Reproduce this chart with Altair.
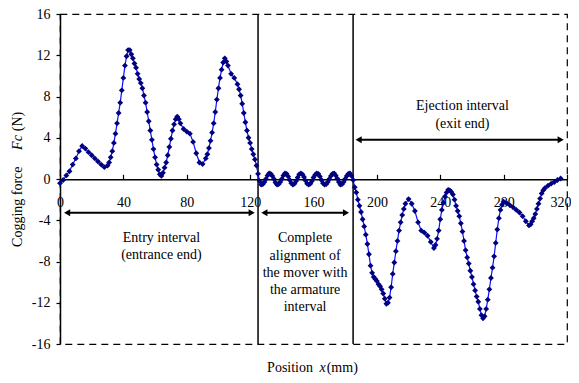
import altair as alt
import pandas as pd

# ---- curve data: position x (mm) and cogging force Fc (N) ----
pos = [0, 2, 4, 6, 8, 10, 12, 14, 16, 18, 20, 22, 24, 26, 28,
       30, 31, 32, 33, 34, 35, 36, 37, 38, 39, 40, 41, 42, 43, 44, 45, 46, 47, 48, 49,
       50, 51, 52, 53, 54, 55, 56, 57, 58, 59, 60, 61, 62, 63, 64, 65, 66, 67, 68, 69,
       70, 71, 72, 73, 74, 75, 76,
       78, 80, 82, 84, 86, 88, 90,
       92, 93, 94, 95, 96, 97, 98, 99, 100, 101, 102, 103, 104, 105, 106,
       108, 110,
       112, 113, 114, 115, 116, 117, 118, 119, 120, 121, 122, 123, 124, 125,
       126, 127, 128, 129, 130, 131, 132, 133, 134, 135, 136, 137, 138, 139, 140,
       141, 142, 143, 144, 145, 146, 147, 148, 149, 150, 151, 152, 153, 154, 155, 156,
       157, 158, 159, 160, 161, 162, 163, 164, 165, 166, 167, 168, 169, 170, 171, 172,
       173, 174, 175, 176, 177, 178, 179, 180, 181, 182, 183, 184, 185,
       186, 187, 188, 189, 190, 191, 192, 193, 194, 195, 196, 197, 198, 199, 200, 201,
       202, 203, 204, 205, 206, 207, 208, 209, 210, 211, 212, 213, 214, 215, 216, 217, 218,
       220, 222, 224, 226, 228, 230, 232, 234,
       236, 237, 238, 239, 240, 241, 242, 243, 244, 245, 246, 247, 248, 249, 250, 251,
       252, 253, 254, 255, 256, 257, 258, 259, 260, 261, 262, 263, 264, 265, 266, 267,
       268, 269, 270, 271, 272, 273, 274, 275, 276, 277, 278, 279, 280,
       282, 284, 286, 288, 290, 292, 294,
       296, 297, 298, 299, 300, 301, 302, 303, 304, 305, 306,
       308, 310, 312, 314, 316]
force = [-0.4, -0.1, 0.35, 0.75, 1.4, 2.0, 2.7, 3.2, 2.95, 2.6, 2.3, 2.0, 1.7, 1.4, 1.15,
         1.3, 1.6, 2.1, 2.7, 3.5, 4.4, 5.4, 6.4, 7.4, 8.6, 9.8, 11.0, 11.9, 12.5, 12.5, 12.1, 11.7, 11.2, 10.8, 10.2,
         9.7, 9.3, 8.8, 8.1, 7.4, 6.5, 5.6, 4.7, 3.8, 2.9, 2.1, 1.4, 0.9, 0.45, 0.3, 0.6, 1.1, 1.6, 2.3, 3.1,
         3.9, 4.7, 5.3, 5.8, 6.05, 5.8, 5.4,
         4.85, 4.6, 4.4, 3.6, 2.5, 1.6, 1.45,
         2.0, 2.4, 3.0, 3.7, 4.5, 5.4, 6.5, 7.7, 8.8, 9.8, 10.6, 11.3, 11.7, 11.4, 11.0,
         10.2, 9.8,
         9.2, 8.7, 8.1, 7.3, 6.4, 5.5, 4.7, 4.0, 3.5, 2.9, 2.4, 1.9, 1.3, 0.5,
         -0.2, -0.55, -0.5, -0.3, 0.0, 0.35, 0.55, 0.5, 0.3, 0.0, -0.35, -0.55, -0.5, -0.3, 0.0,
         0.35, 0.55, 0.5, 0.25, -0.1, -0.4, -0.55, -0.45, -0.2, 0.15, 0.45, 0.55, 0.45, 0.2, -0.15, -0.45,
         -0.55, -0.45, -0.2, 0.15, 0.4, 0.55, 0.5, 0.25, -0.1, -0.4, -0.55, -0.5, -0.3, 0.0, 0.3, 0.5,
         0.55, 0.35, 0.05, -0.3, -0.55, -0.5, -0.3, 0.0, 0.3, 0.5, 0.55, 0.3, -0.1,
         -0.8, -1.3, -2.0, -2.6, -3.2, -3.9, -4.6, -5.4, -6.3, -7.3, -8.4, -9.1, -9.5, -9.7, -9.9, -10.2,
         -10.4, -10.7, -11.1, -11.6, -12.1, -12.0, -11.5, -10.5, -9.2, -8.1, -7.0, -6.0, -5.0, -4.2, -3.5, -2.9, -2.4,
         -1.95, -2.4, -3.1, -4.2, -5.0, -5.2, -5.5, -6.1,
         -6.7, -6.4, -5.8, -5.0, -3.9, -3.0, -2.3, -1.7, -1.3, -1.05, -1.1, -1.25, -1.5, -2.0, -2.6, -3.1,
         -3.6, -4.3, -5.1, -6.0, -6.9, -7.6, -8.2, -8.9, -9.5, -10.2, -10.8, -11.4, -11.9, -12.6, -13.2, -13.5,
         -13.3, -12.6, -11.7, -10.7, -9.6, -8.6, -7.5, -6.2, -4.9, -3.8, -3.0, -2.5, -2.2,
         -2.35, -2.55, -2.75, -3.0, -3.25, -3.6, -4.1,
         -4.5, -4.4, -4.1, -3.8, -3.4, -2.9, -2.4, -1.9, -1.4, -1.1, -0.9,
         -0.65, -0.45, -0.3, -0.1, 0.05]

x_ticks = [0, 40, 80, 120, 160, 200, 240, 280, 320]
y_ticks = [-16, -12, -8, -4, 0, 4, 8, 12, 16]

# interval boundaries
boundaries = [125, 185]

# arrows (head centres) and their heights
arrow_start = [188.5, 4.5, 129.0]
arrow_end = [316.0, 121.0, 180.5]
arrow_y = [3.8, -3.27, -3.27]

# annotation text
notes = ["Entry interval", "(entrance end)", "Complete", "alignment of", "the mover with",
         "the armature", "interval", "Ejection interval", "(exit end)"]
notes_x = [64, 64, 154.7, 154.7, 154.7, 154.7, 154.7, 254, 254]
notes_y = [-5.7, -7.33, -5.69, -7.43, -9.1, -10.8, -12.4, 7.1, 5.35]

FONT = "Liberation Serif"

curve = pd.DataFrame({"x": pos, "y": force})
bounds = pd.DataFrame({"x": boundaries, "y": [-16] * len(boundaries), "y2": [16] * len(boundaries)})
arrows = pd.DataFrame({"x": arrow_start, "x2": arrow_end, "y": arrow_y})
notes_df = pd.DataFrame({"x": notes_x, "y": notes_y, "t": notes})

xscale = alt.Scale(domain=[0, 320], nice=False, zero=False)
yscale = alt.Scale(domain=[-16, 16], nice=False, zero=False)

xaxis = alt.Axis(orient="top", offset=-165.3, values=x_ticks, tickSize=5, tickColor="black",
                 tickWidth=1.2, domainColor="black", domainWidth=1.5, labelPadding=-28,
                 labelBaseline="middle", labelFont=FONT, labelFontSize=14, labelColor="black",
                 labelAlign={"condition": {"test": "datum.value === 320", "value": "right"}, "value": "center"},
                 labelOffset={"condition": {"test": "datum.value === 320", "value": 4}, "value": 0},
                 labelFlush=False, labelOverlap=False, grid=False, title=None)
yaxis = alt.Axis(values=y_ticks, tickSize=4, tickColor="black", tickWidth=1.2,
                 domainColor="black", domainWidth=1.5, labelPadding=6, labelFont=FONT,
                 labelFontSize=14, labelColor="black", labelExpr="datum.value + ''",
                 labelOverlap=False, grid=False, title=None)

X = alt.X("x:Q", scale=xscale, axis=xaxis)
Y = alt.Y("y:Q", scale=yscale, axis=yaxis)

sep = alt.Chart(bounds).mark_rule(color="#111111", strokeWidth=1.6).encode(
    x=X, y=Y, y2="y2:Q")

line = alt.Chart(curve).mark_line(color="#1010ff", strokeWidth=1.2).encode(x=X, y=Y)
pts = alt.Chart(curve).mark_point(shape="diamond", filled=True, color="#000080",
                                  size=34, opacity=1).encode(x=X, y=Y)

arrow_line = alt.Chart(arrows).mark_rule(color="black", strokeWidth=2).encode(
    x=X, x2="x2:Q", y=Y)
head_l = alt.Chart(arrows).mark_point(shape="triangle-left", filled=True, color="black",
                                      size=50, opacity=1).encode(x=X, y=Y)
head_r = alt.Chart(arrows).mark_point(shape="triangle-right", filled=True, color="black",
                                      size=50, opacity=1).encode(
    x=alt.X("x2:Q", scale=xscale, axis=xaxis), y=Y)

note_text = alt.Chart(notes_df).mark_text(font=FONT, fontSize=14, color="black",
                                          align="center", baseline="middle").encode(
    x=X, y=Y, text="t:N")

# axis titles with italic symbols
one = pd.DataFrame({"a": [0]})
def lbl(text, x, y, angle=0, italic=False, align="center"):
    kw = dict(font=FONT, fontSize=14, color="black", align=align, baseline="middle",
              text=text, angle=angle)
    if italic:
        kw["fontStyle"] = "italic"
    return alt.Chart(one).mark_text(**kw).encode(x=alt.value(x), y=alt.value(y))

titles = (
    lbl("Cogging force", -42.5, 192.7, angle=270)
    + lbl("Fc", -42.5, 128.5, angle=270, italic=True)
    + lbl("(N)", -42.5, 107.5, angle=270)
    + lbl("Position", 253, 354, align="right")
    + lbl("x", 262.5, 354, italic=True)
    + lbl("(mm)", 266.7, 354, align="left")
)

chart = alt.layer(sep, line, pts, arrow_line, head_l, head_r, note_text, titles).properties(
    width=507, height=330,
    autosize=alt.AutoSizeParams(type="none"),
    padding={"left": 52, "top": 6, "right": 4, "bottom": 33},
    background="white",
).configure_view(stroke="black", strokeDash=[7, 5], strokeWidth=1.2)

chart.save("out.html", embed_options={"renderer": "svg", "actions": False})
